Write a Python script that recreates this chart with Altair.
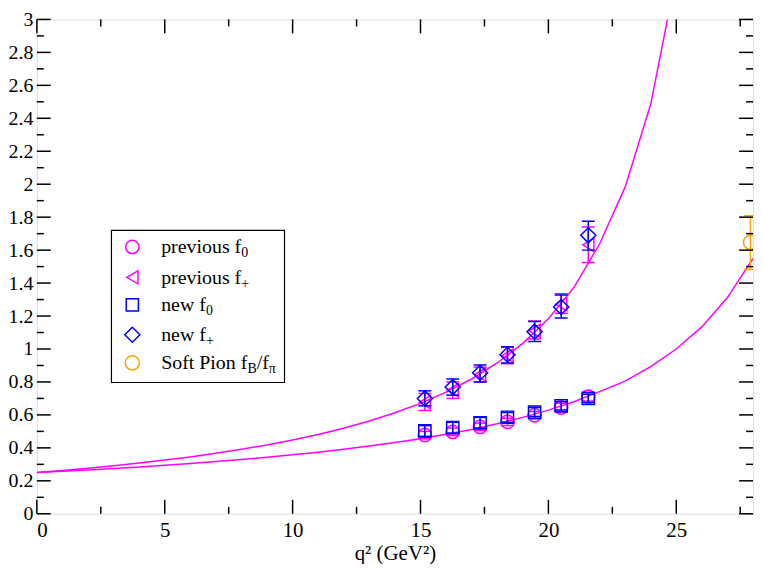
import altair as alt
import pandas as pd

# ---------------- data ----------------
q_pts = [15.17, 16.26, 17.33, 18.40, 19.46, 20.50, 21.56]

prev_f0 = [0.478, 0.497, 0.527, 0.558, 0.598, 0.645, 0.710]
prev_f0_lo = [0.455, 0.475, 0.505, 0.535, 0.575, 0.620, 0.685]
prev_f0_hi = [0.500, 0.520, 0.550, 0.580, 0.620, 0.670, 0.735]

prev_fp = [0.677, 0.750, 0.845, 0.960, 1.110, 1.272, 1.632]
prev_fp_lo = [0.627, 0.700, 0.800, 0.911, 1.060, 1.217, 1.525]
prev_fp_hi = [0.730, 0.800, 0.890, 1.010, 1.170, 1.335, 1.740]

new_f0 = [0.503, 0.523, 0.552, 0.586, 0.617, 0.655, 0.700]
new_f0_lo = [0.470, 0.490, 0.520, 0.555, 0.590, 0.630, 0.675]
new_f0_hi = [0.535, 0.555, 0.585, 0.615, 0.645, 0.680, 0.725]

new_fp = [0.700, 0.769, 0.856, 0.965, 1.105, 1.255, 1.690]
new_fp_lo = [0.655, 0.720, 0.800, 0.915, 1.046, 1.188, 1.600]
new_fp_hi = [0.746, 0.818, 0.903, 1.014, 1.167, 1.327, 1.775]

soft_q = [27.9]
soft_f = [1.647]
soft_lo = [1.483]
soft_hi = [1.809]

curve_q0 = list(range(0, 29))
curve_f0 = [0.250, 0.258, 0.266, 0.275, 0.284, 0.294, 0.305, 0.317, 0.329, 0.343,
            0.358, 0.374, 0.392, 0.411, 0.432, 0.456, 0.483, 0.512, 0.546, 0.585,
            0.629, 0.680, 0.741, 0.805, 0.893, 1.000, 1.134, 1.312, 1.549]
curve_qp = list(range(0, 26))
curve_fp = [0.250, 0.263, 0.277, 0.292, 0.308, 0.326, 0.345, 0.367, 0.391, 0.418,
            0.448, 0.481, 0.519, 0.563, 0.613, 0.670, 0.738, 0.818, 0.915, 1.034,
            1.183, 1.374, 1.637, 1.982, 2.485, 3.270]

x_major = [0, 5, 10, 15, 20, 25]
x_minor = [2.5, 7.5, 12.5, 17.5, 22.5, 27.5]
y_major = [round(i * 0.2, 1) for i in range(16)]
y_minor = [round(0.1 + i * 0.2, 1) for i in range(15)]

legend_labels = ["previous f", "previous f", "new f", "new f", "Soft Pion f"]
legend_subs = ["0", "+", "0", "+", "B"]

# ---------------- styling ----------------
W, H = 720, 497
MAG = "#ff00ff"
BLUE = "#0000ff"
ORANGE = "#ffa500"
FONT = "Liberation Serif"

xs = alt.Scale(domain=[0, 28], nice=False, zero=False)
ys = alt.Scale(domain=[0, 3], nice=False, zero=False)

AX = alt.Axis(values=x_major, ticks=False, domain=False, grid=False,
              labelFont=FONT, labelFontSize=21, labelColor="black",
              labelPadding=6, title="q² (GeV²)", titleFont=FONT,
              titleFontSize=21, titleFontWeight="normal", titleColor="black",
              titlePadding=2)
AY = alt.Axis(values=y_major, format="~g", ticks=False, domain=False, grid=False,
              labelFont=FONT, labelFontSize=20, labelColor="black",
              labelPadding=4, title=" ")


def X(field):
    return alt.X(field, scale=xs, axis=AX, title="q² (GeV²)")


def Y(field):
    return alt.Y(field, scale=ys, axis=AY, title=" ")


def series_df(y, lo, hi, q=q_pts):
    return pd.DataFrame({"q": q, "f": y, "lo": lo, "hi": hi})


layers = []

# curves
d0 = pd.DataFrame({"q": curve_q0, "f": curve_f0})
dp = pd.DataFrame({"q": curve_qp, "f": curve_fp})
layers.append(alt.Chart(d0).mark_line(color=MAG, strokeWidth=1.5, clip=True).encode(
    x=X("q:Q"), y=Y("f:Q")))
layers.append(alt.Chart(dp).mark_line(color=MAG, strokeWidth=1.5, clip=True).encode(
    x=X("q:Q"), y=Y("f:Q")))


def add_series(df, color, shape, size):
    layers.append(alt.Chart(df).mark_rule(color=color, strokeWidth=1.5, clip=True).encode(
        x=X("q:Q"), y=Y("lo:Q"), y2="hi:Q"))
    for fld in ["lo", "hi"]:
        layers.append(alt.Chart(df).mark_tick(color=color, orient="horizontal", size=13,
                                              thickness=1.5, opacity=1, clip=True).encode(
            x=X("q:Q"), y=Y(f"{fld}:Q")))
    layers.append(alt.Chart(df).mark_point(color=color, shape=shape, size=size, filled=False,
                                           strokeWidth=1.5, opacity=1, clip=True).encode(
        x=X("q:Q"), y=Y("f:Q")))


add_series(series_df(prev_f0, prev_f0_lo, prev_f0_hi), MAG, "circle", 180)
add_series(series_df(prev_fp, prev_fp_lo, prev_fp_hi), MAG, "triangle-left", 170)
add_series(series_df(new_f0, new_f0_lo, new_f0_hi), BLUE, "square", 150)
add_series(series_df(new_fp, new_fp_lo, new_fp_hi), BLUE, "diamond", 230)
add_series(series_df(soft_f, soft_lo, soft_hi, q=soft_q), ORANGE, "circle", 200)


# inward ticks on all four sides
def xticks(vals, length, side):
    df = pd.DataFrame({"q": vals})
    if side == "bottom":
        yv, y2v = H, H - length
    else:
        yv, y2v = 0, length
    return alt.Chart(df).mark_rule(color="black", strokeWidth=1.5).encode(
        x=X("q:Q"), y=alt.value(yv), y2=alt.value(y2v))


def yticks(vals, length, side):
    df = pd.DataFrame({"f": vals})
    if side == "left":
        xv, x2v = 0, length
    else:
        xv, x2v = W, W - length
    return alt.Chart(df).mark_rule(color="black", strokeWidth=1.5).encode(
        y=Y("f:Q"), x=alt.value(xv), x2=alt.value(x2v))


for side in ["bottom", "top"]:
    layers.append(xticks(x_major, 14, side))
    layers.append(xticks(x_minor, 7, side))
for side in ["left", "right"]:
    layers.append(yticks(y_major, 14, side))
    layers.append(yticks(y_minor, 7, side))

# legend (drawn by hand so subscripts are real text)
one = pd.DataFrame({"k": [0]})
layers.append(alt.Chart(one).mark_rect(fill="white", stroke="black", strokeWidth=1.2).encode(
    x=alt.value(75), x2=alt.value(249), y=alt.value(212), y2=alt.value(365)))

sym_x = 96
sym_y = [228.7, 259.3, 287.0, 317.0, 345.3]
sym_spec = [(MAG, "circle", 180), (MAG, "triangle-left", 170), (BLUE, "square", 150),
            (BLUE, "diamond", 230), (ORANGE, "circle", 200)]
sub_x = [205.5, 205.5, 170.0, 170.0, 211.7]
for i in range(5):
    c, shp, sz = sym_spec[i]
    layers.append(alt.Chart(one).mark_point(color=c, shape=shp, size=sz, filled=False,
                                            strokeWidth=1.5, opacity=1).encode(
        x=alt.value(sym_x), y=alt.value(sym_y[i])))
    base = sym_y[i] + 6.5
    layers.append(alt.Chart(one).mark_text(align="left", baseline="alphabetic", font=FONT,
                                           fontSize=20, color="black").encode(
        x=alt.value(125), y=alt.value(base), text=alt.value(legend_labels[i])))
    layers.append(alt.Chart(one).mark_text(align="left", baseline="alphabetic", font=FONT,
                                           fontSize=14, color="black").encode(
        x=alt.value(sub_x[i]), y=alt.value(base + 4), text=alt.value(legend_subs[i])))
# the "/f_π" tail of the soft pion entry
base5 = sym_y[4] + 6.5
layers.append(alt.Chart(one).mark_text(align="left", baseline="alphabetic", font=FONT,
                                       fontSize=20, color="black").encode(
    x=alt.value(221), y=alt.value(base5), text=alt.value("/f")))
layers.append(alt.Chart(one).mark_text(align="left", baseline="alphabetic", font=FONT,
                                       fontSize=14, color="black").encode(
    x=alt.value(233.2), y=alt.value(base5 + 4), text=alt.value("π")))

chart = alt.layer(*layers).properties(
    width=W, height=H,
    padding={"left": 29, "top": 10, "right": 2, "bottom": 49},
    autosize=alt.AutoSizeParams(type="none"),
).configure_view(
    stroke="black", strokeWidth=1.5
).configure_axis(
    labelFont=FONT, titleFont=FONT, labelColor="black", titleColor="black"
).configure(background="white", font=FONT)

chart.save("out.html", embed_options={"renderer": "svg", "actions": False})
